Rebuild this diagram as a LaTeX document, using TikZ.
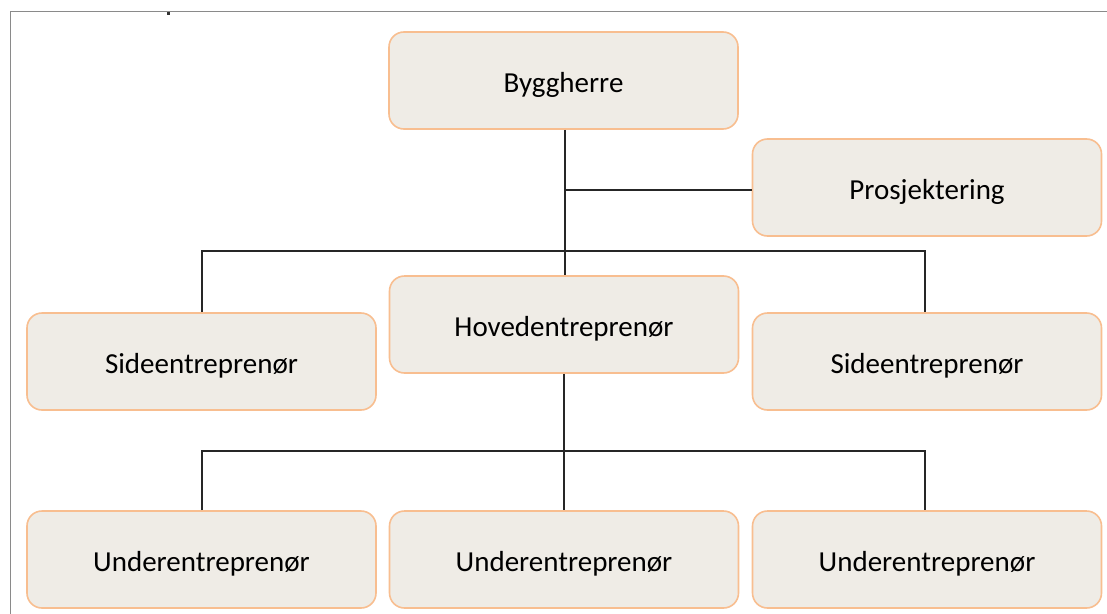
\documentclass[tikz,border=0pt]{standalone}
\usepackage{fontspec}
\setmainfont{Carlito}
\definecolor{boxfill}{HTML}{EFECE6}
\definecolor{boxline}{HTML}{F8BE90}
\definecolor{framegray}{HTML}{8A8A8A}
\begin{document}
\begin{tikzpicture}[x=1pt,y=-1pt,
  orgbox/.style={draw=boxline,line width=1.6pt,fill=boxfill,rounded corners=15pt,
    minimum width=349pt,minimum height=97pt,inner sep=0pt,text height=23pt,text depth=0pt,
    font=\fontsize{29}{32}\selectfont,anchor=center},
  link/.style={draw=black!85,line width=1.1pt}]
\useasboundingbox (0,0) rectangle (1107,613);
\fill[white] (0,0) rectangle (1107,613);
% frame
\draw[framegray,line width=1.6pt] (10.5,630) -- (10.5,11.5) -- (1120,11.5);
\fill[black!80] (167,12) rectangle (170,15);
% nodes
\node[orgbox] (bygg) at (563.5,80.5) {Byggherre};
\node[orgbox] (pros) at (927,187.5) {Prosjektering};
\node[orgbox] (hoved) at (564,324.5) {Hovedentreprenør};
\node[orgbox] (sideL) at (201.5,361.5) {Sideentreprenør};
\node[orgbox] (sideR) at (927,361.5) {Sideentreprenør};
\node[orgbox] (u1) at (201.5,559.5) {Underentreprenør};
\node[orgbox] (u2) at (564,559.5) {Underentreprenør};
\node[orgbox] (u3) at (927,559.5) {Underentreprenør};
% junction coordinates
\coordinate (jp) at (565,190);
\coordinate (js) at (565,251);
\coordinate (jsL) at (202,251);
\coordinate (jsR) at (925,251);
\coordinate (ju) at (564,451);
\coordinate (juL) at (202,451);
\coordinate (juR) at (925,451);
% connectors
\draw[link] (bygg.south -| jp) -- (hoved.north -| jp);
\draw[link] (jp) -- (pros.west |- jp);
\draw[link] (sideL.north -| jsL) -- (jsL) -- (jsR) -- (sideR.north -| jsR);
\draw[link] (hoved.south -| ju) -- (u2.north -| ju);
\draw[link] (u1.north -| juL) -- (juL) -- (juR) -- (u3.north -| juR);
\end{tikzpicture}
\end{document}
